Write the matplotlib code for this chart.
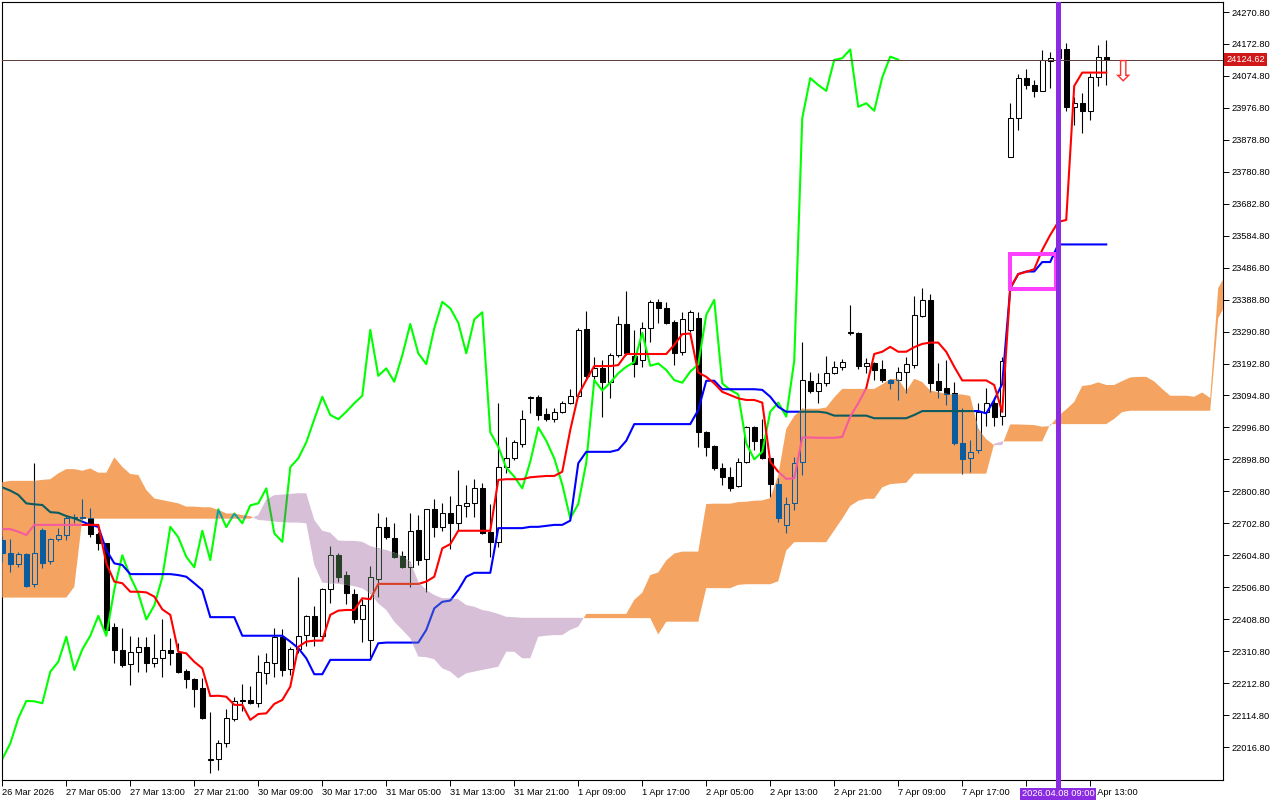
import numpy as np
import matplotlib.pyplot as plt
import matplotlib.transforms as mtransforms
from matplotlib.colors import to_rgb
from matplotlib.patches import Rectangle

plt.rcParams["font.family"] = ["Liberation Sans", "DejaVu Sans"]

# hourly bars, oldest first (bar 0 = 26 Mar 2026)
opens = [22652, 22611, 22577, 22608, 22516, 22682, 22587, 22656, 22667, 22718,
         22723, 22720, 22669, 22641, 22384, 22314, 22270, 22307, 22323, 22273,
         22289, 22314, 22306, 22251, 22224, 22199, 21978, 21979, 22028, 22104,
         22161, 22161, 22151, 22243, 22275, 22355, 22255, 22316, 22360, 22419,
         22358, 22500, 22605, 22544, 22486, 22408, 22345, 22533, 22692, 22657,
         22602, 22568, 22681, 22592, 22746, 22691, 22733, 22703, 22757, 22764,
         22810, 22675, 22646, 22876, 22902, 22946, 23088, 23089, 23037, 23022,
         23045, 23071, 23093, 23298, 23155, 23178, 23137, 23218, 23314, 23216,
         23204, 23301, 23382, 23362, 23319, 23229, 23296, 23331, 22984, 22940,
         22873, 22846, 22817, 22892, 22999, 22960, 22902, 22823, 22698, 22764,
         22892, 23139, 23110, 23134, 23165, 23183, 23290, 23285, 23186, 23193,
         23175, 23142, 23142, 23168, 23188, 23340, 23388, 23139, 23117, 23101,
         22950, 22902, 22928, 23045, 23073, 23032, 23827, 23945, 24068, 24047,
         24029, 24121, 24129, 24156, 23978, 23991, 23968, 24070, 24134]
highs = [22664, 22654, 22614, 22611, 22887, 22688, 22657, 22687, 22727, 22731,
         22776, 22749, 22677, 22643, 22396, 22381, 22357, 22353, 22353, 22363,
         22408, 22350, 22337, 22255, 22227, 22227, 22123, 22038, 22132, 22171,
         22210, 22204, 22299, 22304, 22382, 22378, 22324, 22537, 22422, 22449,
         22504, 22633, 22613, 22557, 22500, 22470, 22572, 22733, 22721, 22703,
         22618, 22733, 22728, 22747, 22776, 22764, 22787, 22866, 22820, 22838,
         22826, 22762, 23071, 22968, 22958, 23050, 23092, 23096, 23055, 23055,
         23079, 23114, 23301, 23354, 23212, 23204, 23226, 23339, 23415, 23296,
         23321, 23388, 23391, 23382, 23326, 23352, 23357, 23352, 22987, 22942,
         22889, 22876, 22902, 23002, 23001, 23022, 22903, 22841, 22783, 22907,
         23260, 23168, 23163, 23216, 23201, 23206, 23372, 23290, 23209, 23198,
         23204, 23144, 23183, 23212, 23400, 23423, 23406, 23195, 23204, 23137,
         23055, 22958, 23073, 23117, 23091, 23212, 23991, 24080, 24095, 24062,
         24154, 24149, 24262, 24177, 24011, 24021, 24083, 24170, 24185]
lows = [22584, 22554, 22570, 22507, 22507, 22565, 22577, 22649, 22652, 22703,
        22716, 22660, 22621, 22370, 22273, 22261, 22207, 22248, 22246, 22261,
        22232, 22268, 22245, 22197, 22140, 22103, 21936, 21946, 22018, 22097,
        22128, 22150, 22140, 22210, 22231, 22235, 22238, 22304, 22327, 22327,
        22355, 22459, 22523, 22455, 22398, 22340, 22294, 22478, 22656, 22595,
        22567, 22508, 22575, 22493, 22662, 22680, 22623, 22682, 22723, 22721,
        22670, 22598, 22631, 22856, 22897, 22938, 23040, 23020, 23017, 23014,
        23040, 23069, 23090, 23147, 23142, 23028, 23086, 23212, 23219, 23152,
        23181, 23260, 23318, 23314, 23188, 23219, 23290, 22938, 22910, 22866,
        22820, 22802, 22815, 22889, 22928, 22900, 22784, 22707, 22673, 22744,
        22851, 23103, 23073, 23124, 23161, 23173, 23280, 23175, 23163, 23142,
        23137, 23114, 23081, 23103, 23178, 23334, 23106, 23086, 23066, 22943,
        22854, 22861, 22919, 23001, 23001, 23004, 23825, 23909, 24034, 24011,
        24028, 24037, 24110, 23968, 23924, 23901, 23940, 24044, 24047]
closes = [22612, 22577, 22608, 22511, 22611, 22580, 22654, 22666, 22718, 22723,
          22719, 22669, 22643, 22376, 22314, 22268, 22307, 22323, 22273, 22289,
          22313, 22304, 22248, 22224, 22194, 22105, 21980, 22028, 22105, 22158,
          22157, 22151, 22248, 22278, 22355, 22253, 22316, 22358, 22419, 22358,
          22500, 22605, 22539, 22488, 22408, 22451, 22537, 22692, 22660, 22600,
          22568, 22680, 22590, 22746, 22691, 22733, 22703, 22758, 22764, 22810,
          22672, 22646, 22875, 22902, 22951, 23022, 23091, 23035, 23022, 23045,
          23071, 23094, 23296, 23155, 23178, 23137, 23218, 23314, 23224, 23191,
          23301, 23382, 23362, 23318, 23224, 23328, 23350, 22982, 22938, 22873,
          22846, 22810, 22892, 22997, 22956, 22902, 22822, 22718, 22762, 22889,
          23142, 23110, 23134, 23163, 23183, 23197, 23287, 23186, 23193, 23173,
          23142, 23134, 23168, 23190, 23342, 23388, 23132, 23112, 23098, 22948,
          22899, 22922, 23045, 23073, 23030, 23201, 23945, 24068, 24047, 24029,
          24124, 24129, 24156, 23980, 23991, 23968, 24070, 24134, 24124.62]

tenkan = [22685, 22685, 22677, 22667, 22698, 22698, 22698, 22698, 22698, 22698,
          22698, 22698, 22698, 22580, 22524, 22519, 22493, 22493, 22491, 22478,
          22439, 22422, 22309, 22304, 22278, 22258, 22173, 22174, 22171, 22146,
          22146, 22100, 22118, 22120, 22149, 22161, 22202, 22324, 22340, 22343,
          22343, 22422, 22435, 22437, 22437, 22473, 22470, 22517, 22517, 22517,
          22517, 22517, 22517, 22524, 22539, 22626, 22639, 22680, 22680, 22680,
          22680, 22680, 22836, 22838, 22838, 22838, 22844, 22846, 22848, 22848,
          22861, 22989, 23096, 23142, 23185, 23185, 23185, 23188, 23222, 23222,
          23222, 23222, 23222, 23222, 23250, 23283, 23285, 23165, 23152, 23132,
          23106, 23096, 23086, 23081, 23081, 23073, 22892, 22861, 22839, 22841,
          22966, 22966, 22965, 22965, 22965, 22968, 23030, 23071, 23117, 23222,
          23229, 23244, 23229, 23229, 23243, 23253, 23257, 23257, 23229, 23183,
          23141, 23141, 23141, 23141, 23127, 23044, 23424, 23467, 23474, 23482,
          23541, 23587, 23627, 23633, 24044, 24085, 24085, 24085, 24085]
kijun = [22813, 22803, 22790, 22764, 22761, 22759, 22737, 22735, 22725, 22718,
         22708, 22698, 22692, 22621, 22580, 22575, 22547, 22547, 22547, 22547,
         22547, 22547, 22544, 22539, 22519, 22498, 22415, 22415, 22415, 22415,
         22358, 22358, 22358, 22358, 22358, 22358, 22340, 22320, 22289, 22240,
         22240, 22284, 22284, 22284, 22284, 22284, 22284, 22335, 22337, 22337,
         22337, 22337, 22337, 22376, 22442, 22462, 22466, 22498, 22539, 22551,
         22551, 22551, 22688, 22688, 22688, 22688, 22692, 22692, 22695, 22698,
         22698, 22711, 22887, 22922, 22922, 22922, 22922, 22928, 22956, 23007,
         23007, 23007, 23007, 23007, 23007, 23007, 23007, 23050, 23140, 23140,
         23114, 23114, 23114, 23114, 23114, 23112, 23091, 23060, 23045, 23045,
         23045, 23045, 23045, 23042, 23033, 23033, 23033, 23033, 23033, 23025,
         23025, 23025, 23025, 23025, 23035, 23047, 23047, 23047, 23047, 23047,
         23047, 23047, 23047, 23040, 23081, 23130, 23423, 23467, 23475, 23475,
         23504, 23504, 23558, 23558, 23558, 23558, 23558, 23558, 23558]

# cloud edges, already shifted forward (runs 15 bars past the last candle)
span_a = [22829, 22833, 22833, 22833, 22833, 22836, 22838, 22856, 22869, 22869,
          22864, 22871, 22858, 22858, 22905, 22876, 22854, 22851, 22805, 22779,
          22774, 22769, 22764, 22754, 22754, 22752, 22752, 22744, 22733, 22733,
          22728, 22725, 22713, 22711, 22708, 22706, 22705, 22705, 22703, 22575,
          22521, 22519, 22517, 22514, 22510, 22503, 22488, 22457, 22437, 22401,
          22376, 22350, 22294, 22292, 22286, 22258, 22248, 22227, 22243, 22248,
          22253, 22258, 22263, 22309, 22309, 22289, 22289, 22355, 22358, 22360,
          22360, 22376, 22386, 22425, 22425, 22425, 22425, 22425, 22425, 22468,
          22490, 22544, 22552, 22589, 22610, 22616, 22616, 22616, 22762, 22763,
          22763, 22763, 22768, 22769, 22772, 22773, 22780, 22850, 22992, 23032,
          23054, 23054, 23054, 23058, 23089, 23115, 23115, 23115, 23115, 23115,
          23129, 23145, 23146, 23108, 23146, 23136, 23110, 23105, 23100, 23098,
          23098, 23093, 22992, 22961, 22942, 22943, 23006, 23006, 23005, 23004,
          22999, 23001, 23032, 23052, 23075, 23124, 23127, 23135, 23127, 23127,
          23139, 23150, 23152, 23152, 23138, 23115, 23094, 23094, 23094, 23091,
          23104, 23087, 23424, 23467]
span_b = [22475, 22475, 22475, 22475, 22475, 22475, 22475, 22475, 22475, 22508,
          22717, 22717, 22717, 22717, 22717, 22717, 22717, 22717, 22717, 22717,
          22717, 22717, 22717, 22717, 22717, 22717, 22717, 22717, 22717, 22717,
          22717, 22717, 22728, 22776, 22789, 22791, 22793, 22795, 22795, 22713,
          22680, 22674, 22650, 22649, 22649, 22646, 22633, 22626, 22621, 22613,
          22603, 22585, 22524, 22498, 22483, 22473, 22473, 22470, 22452, 22447,
          22437, 22432, 22425, 22416, 22415, 22413, 22413, 22413, 22413, 22413,
          22413, 22413, 22413, 22412, 22412, 22412, 22412, 22412, 22412, 22412,
          22412, 22412, 22362, 22401, 22401, 22401, 22401, 22401, 22504, 22504,
          22504, 22504, 22514, 22516, 22516, 22516, 22516, 22525, 22619, 22645,
          22645, 22645, 22645, 22645, 22681, 22717, 22756, 22772, 22778, 22778,
          22813, 22823, 22825, 22827, 22855, 22855, 22855, 22855, 22855, 22855,
          22855, 22855, 22855, 22855, 22947, 22954, 22954, 22954, 22954, 22954,
          22954, 23007, 23007, 23007, 23007, 23007, 23007, 23007, 23007, 23023,
          23044, 23048, 23048, 23048, 23048, 23048, 23048, 23048, 23048, 23048,
          23048, 23048, 23332, 23377]

CHIKOU_SHIFT = 26
time_labels = ["26 Mar 2026", "27 Mar 05:00", "27 Mar 13:00", "27 Mar 21:00",
               "30 Mar 09:00", "30 Mar 17:00", "31 Mar 05:00", "31 Mar 13:00",
               "31 Mar 21:00", "1 Apr 09:00", "1 Apr 17:00", "2 Apr 05:00",
               "2 Apr 13:00", "2 Apr 21:00", "7 Apr 09:00", "7 Apr 17:00",
               "", "8 Apr 13:00"]
price_ticks = [24270.8 - 98 * k for k in range(24)]
last_price = 24124.62
marker_bar = 132
marker_label = "2026.04.08 09:00"
box_bars = (126, 131.7)
box_prices = (23420, 23530)
arrow_bar = 140
arrow_price = 24085

# colours of the MT5 template
BASE = {"black": "#000000", "white": "#FFFFFF", "red": "#FF0000",
        "blue": "#0000FF", "lime": "#00FF00"}
CLOUD_UP = "#F4A460"
CLOUD_DN = "#D8BFD8"


def xor_palette(cloud):
    # MT5 paints the cloud in xor mode, so whatever lies under it is inverted
    key = [255 - int(round(v * 255)) for v in to_rgb(cloud)]
    pal = {}
    for name, col in BASE.items():
        rgb = [int(round(v * 255)) for v in to_rgb(col)]
        pal[name] = "#%02X%02X%02X" % tuple(v ^ k for v, k in zip(rgb, key))
    return pal


def draw_layer(ax, pal, z, clip=None):
    x = np.arange(len(opens))
    o = np.array(opens, dtype=float)
    c = np.array(closes, dtype=float)
    bottom = np.minimum(o, c)
    height = np.maximum(np.abs(c - o), 1.5)
    faces = np.where(c >= o, pal["white"], pal["black"])
    arts = [ax.vlines(x, lows, highs, colors=pal["black"], lw=0.8, zorder=z)]
    bars = ax.bar(x, height, 0.62, bottom=bottom, color=faces,
                  edgecolor=pal["black"], lw=0.75, zorder=z + 0.1)
    arts += list(bars.patches)
    xc = np.arange(len(closes) - CHIKOU_SHIFT)
    arts += ax.plot(xc, closes[CHIKOU_SHIFT:], color=pal["lime"], lw=1.5, zorder=z + 0.2)
    arts += ax.plot(x, kijun, color=pal["blue"], lw=1.5, zorder=z + 0.3)
    arts += ax.plot(x, tenkan, color=pal["red"], lw=1.5, zorder=z + 0.4)
    if clip is not None:
        for a in arts:
            a.set_clip_path(clip, ax.transData)


fig = plt.figure(figsize=(12.8, 8), dpi=100)
ax = fig.add_axes([2 / 1280, 20 / 800, 1221 / 1280, 778 / 800])
ax.set_xlim(-0.04, 152.6)
ax.set_ylim(21915.6, 24301.5)

draw_layer(ax, BASE, 2)

xs = np.arange(len(span_a))
a = np.array(span_a, dtype=float)
b = np.array(span_b, dtype=float)
up = ax.fill_between(xs, a, b, where=a >= b, interpolate=True, color=CLOUD_UP, lw=0, zorder=3)
dn = ax.fill_between(xs, a, b, where=a < b, interpolate=True, color=CLOUD_DN, lw=0, zorder=3)

for coll, cloud in ((up, CLOUD_UP), (dn, CLOUD_DN)):
    for p in coll.get_paths():
        draw_layer(ax, xor_palette(cloud), 4, clip=p)

# chart objects
ax.axhline(last_price, color="#5A3A3A", lw=0.7, zorder=6)
ax.add_patch(Rectangle((box_bars[0], box_prices[0]), box_bars[1] - box_bars[0],
                       box_prices[1] - box_prices[0], fill=False, ec="#FF40FF",
                       lw=2.9, zorder=7))
ax.axvline(marker_bar, color="#8A2BE2", lw=3.6, zorder=8)
ax.text(arrow_bar, arrow_price, "\u21e9", fontsize=21, color="#FF3030",
        ha="center", va="center", family="DejaVu Sans", zorder=8)

# axes
for s in ax.spines.values():
    s.set_color("black")
    s.set_linewidth(0.8)
ax.set_xticks(np.arange(0, len(opens), 8), time_labels, ha="left", fontsize=6.7)
ax.tick_params(axis="x", direction="out", length=4, width=0.7, pad=2)
ax.yaxis.tick_right()
ax.set_yticks(price_ticks, ["%.2f" % p for p in price_ticks], fontsize=6.7)
ax.tick_params(axis="y", direction="out", length=4, width=0.7, pad=2)

ax.text(1.0025, last_price, "%.2f" % last_price, transform=ax.get_yaxis_transform(),
        ha="left", va="center", color="white", fontsize=6.7, zorder=10, clip_on=False,
        bbox=dict(boxstyle="square,pad=0.2", fc="#D01818", ec="none"))

blend = mtransforms.blended_transform_factory(ax.transData, ax.transAxes)
ax.plot([marker_bar, marker_bar], [0, -0.012], transform=blend, color="#8A2BE2",
        lw=3.6, clip_on=False, zorder=10)
ax.text(marker_bar, -0.0175, marker_label, transform=blend, ha="center", va="center",
        color="white", fontsize=6.7, zorder=11, clip_on=False,
        bbox=dict(boxstyle="square,pad=0.15", fc="#8A2BE2", ec="none"))

fig.savefig("out.png", dpi=100, facecolor="white")
